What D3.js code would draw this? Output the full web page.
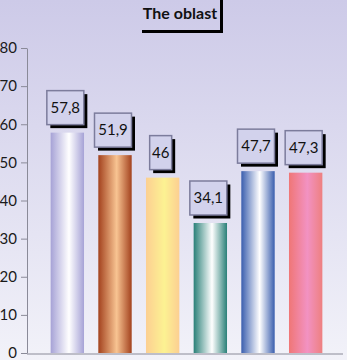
<!DOCTYPE html>
<meta charset="utf-8">
<style>
body { margin: 0; font-family: Lato, "Open Sans", sans-serif; }
.axis path, .axis line { stroke: #8a8a98; }
.axis text { font-size: 15px; fill: #1a1a1a; font-family: Lato, sans-serif; }
</style>
<body>
<div id="chart"></div>
<script src="https://d3js.org/d3.v7.min.js"></script>
<script>
var categories = ["A", "B", "C", "D", "E", "F"];
var values = [57.8, 51.9, 46, 34.1, 47.7, 47.3];
var labels = ["57,8", "51,9", "46", "34,1", "47,7", "47,3"];
var yTicks = [0, 10, 20, 30, 40, 50, 60, 70, 80];
// edge / middle colours for each bar's cylinder gradient
var barColors = [
  ["#a6a2d6", "#ffffff", "#a6a2d6"],
  ["#a3421e", "#f8c492", "#a3421e"],
  ["#fccf92", "#fcf292", "#fccf92"],
  ["#2a8078", "#ffffff", "#2a8078"],
  ["#3a5eae", "#ffffff", "#3a5eae"],
  ["#f07676", "#f292c2", "#ee8080"]
];

var width = 347, height = 360;

var svg = d3.select("#chart").append("svg")
  .attr("width", width)
  .attr("height", height);

var defs = svg.append("defs");
var bg = defs.append("linearGradient").attr("id", "bg")
  .attr("x1", 0).attr("y1", 0).attr("x2", 0).attr("y2", 1);
bg.append("stop").attr("offset", "0%").attr("stop-color", "#cdcae8");
bg.append("stop").attr("offset", "100%").attr("stop-color", "#f2f2f9");

barColors.forEach(function(c, i) {
  var g = defs.append("linearGradient").attr("id", "bar" + i)
    .attr("x1", 0).attr("y1", 0).attr("x2", 1).attr("y2", 0);
  g.append("stop").attr("offset", "0%").attr("stop-color", c[0]);
  g.append("stop").attr("offset", "55%").attr("stop-color", c[1]);
  g.append("stop").attr("offset", "100%").attr("stop-color", c[2]);
});

svg.append("rect").attr("width", width).attr("height", height).attr("fill", "url(#bg)");

var x = d3.scaleBand().domain(categories).range([43.5, 329.5])
  .paddingInner(0.3).paddingOuter(0.15);
var y = d3.scaleLinear().domain([0, 80]).range([353, 48]);

// title with shadow
var tg = svg.append("g");
tg.append("path")
  .attr("d", "M142,31.5 H221.5 V0")
  .attr("fill", "none").attr("stroke", "#000").attr("stroke-width", 3);
tg.append("text")
  .attr("x", 180).attr("y", 19)
  .attr("text-anchor", "middle")
  .attr("font-size", 16).attr("font-weight", "bold").attr("fill", "#111")
  .text("The oblast");

// axes
svg.append("g").attr("class", "axis")
  .attr("transform", "translate(27,0)")
  .call(d3.axisLeft(y).tickValues(yTicks).tickSize(6).tickSizeOuter(0).tickPadding(4));

svg.append("line")
  .attr("x1", 27).attr("x2", 343)
  .attr("y1", y(0) + 1).attr("y2", y(0) + 1)
  .attr("stroke", "#8a8a98");

// bars
svg.selectAll(".bar").data(values).enter().append("rect")
  .attr("class", "bar")
  .attr("x", function(d, i) { return x(categories[i]); })
  .attr("y", function(d) { return y(d); })
  .attr("width", x.bandwidth())
  .attr("height", function(d) { return y(0) - y(d); })
  .attr("fill", function(d, i) { return "url(#bar" + i + ")"; });

// value labels in boxes
var lab = svg.selectAll(".lab").data(values).enter().append("g")
  .attr("class", "lab");

lab.each(function(d, i) {
  var g = d3.select(this);
  var cx = x(categories[i]) + x.bandwidth() / 2 - 2;
  var w = labels[i].length > 2 ? 37 : 22;
  var h = 34;
  var top = y(d) - 8 - h;
  g.append("rect")
    .attr("x", cx - w / 2 + 3.5).attr("y", top + 3.5)
    .attr("width", w).attr("height", h)
    .attr("fill", "#000");
  g.append("rect")
    .attr("x", cx - w / 2).attr("y", top)
    .attr("width", w).attr("height", h)
    .attr("fill", "#d2d2ec").attr("stroke", "#7c7c9c").attr("stroke-width", 1.5);
  g.append("text")
    .attr("x", cx).attr("y", top + h / 2 + 5)
    .attr("text-anchor", "middle")
    .attr("font-size", 15).attr("fill", "#111")
    .text(labels[i]);
});
</script>
</body>
